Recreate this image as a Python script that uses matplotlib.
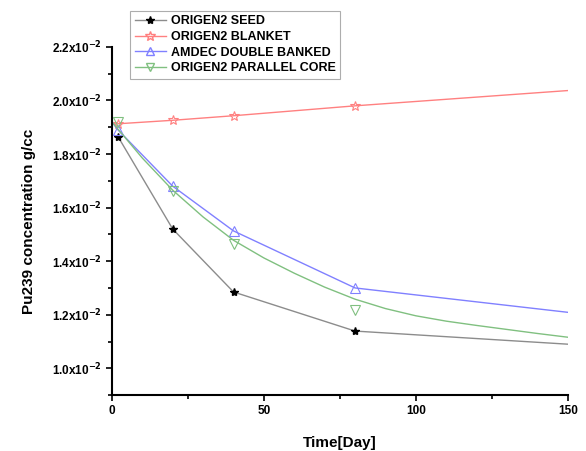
import numpy as np
import matplotlib
matplotlib.use("Agg")
import matplotlib.pyplot as plt
from matplotlib.lines import Line2D

plt.rcParams['font.family'] = ['Liberation Sans', 'DejaVu Sans']

# marker positions (days) and values (x1e-2 g/cc)
days = [2, 20, 40, 80]
seed = [1.865, 1.52, 1.285, 1.139]
blanket = [1.913, 1.926, 1.943, 1.980]
amdec = [1.89, 1.68, 1.513, 1.30]
parallel = [1.92, 1.662, 1.464, 1.218]

# line paths
seed_line_days = [2, 20, 40, 80, 150]
seed_line = [1.865, 1.52, 1.285, 1.139, 1.09]
blanket_line_days = [0, 2, 20, 40, 80, 150]
blanket_line = [1.912, 1.913, 1.926, 1.943, 1.980, 2.037]
amdec_line_days = [0, 2, 20, 40, 80, 150]
amdec_line = [1.92, 1.89, 1.68, 1.513, 1.30, 1.209]
fit_days = [0, 10, 20, 30, 40, 50, 60, 70, 80, 90, 100, 110, 120, 130, 140, 150]
fit_vals = [1.92, 1.785, 1.665, 1.565, 1.478, 1.412, 1.355, 1.303, 1.258,
            1.223, 1.196, 1.176, 1.160, 1.145, 1.130, 1.116]

ytick_vals = [1.0, 1.2, 1.4, 1.6, 1.8, 2.0, 2.2]
ytick_labels = [r'%.1fx10$^{\mathbf{-2}}$' % v for v in ytick_vals]

fig = plt.figure(figsize=(5.86, 4.51), dpi=100)
ax = fig.add_axes([0.191, 0.124, 0.778, 0.772])

c_seed, c_blank, c_amdec, c_par = '#8c8c8c', '#ff8080', '#8080ff', '#80c080'

ax.plot(seed_line_days, seed_line, color=c_seed, lw=1)
ax.plot(days, seed, ls='none', marker='*', ms=6, color='black')
ax.plot(blanket_line_days, blanket_line, color=c_blank, lw=1)
ax.plot(days, blanket, ls='none', marker='*', ms=7, mfc='none', mec=c_blank, mew=0.8)
ax.plot(amdec_line_days, amdec_line, color=c_amdec, lw=1)
ax.plot(days, amdec, ls='none', marker='^', ms=7, mfc='none', mec=c_amdec, mew=0.8)
ax.plot(fit_days, fit_vals, color=c_par, lw=1)
ax.plot(days, parallel, ls='none', marker='v', ms=7, mfc='none', mec=c_par, mew=0.8)

ax.set_xlim(0, 150)
ax.set_ylim(0.9, 2.2)
ax.set_xticks([0, 50, 100, 150])
ax.set_xticks([25, 75, 125], minor=True)
ax.set_yticks(ytick_vals)
ax.set_yticklabels(ytick_labels)
ax.set_yticks([0.9, 1.1, 1.3, 1.5, 1.7, 1.9, 2.1], minor=True)
for lab in ax.get_xticklabels() + ax.get_yticklabels():
    lab.set_fontweight('bold')
    lab.set_fontsize(8.5)
ax.tick_params(which='major', direction='out', length=4, width=1.2, pad=3)
ax.tick_params(which='minor', direction='out', length=3, width=1.2)

for s in ['top', 'right']:
    ax.spines[s].set_visible(False)
for s in ['left', 'bottom']:
    ax.spines[s].set_linewidth(1.5)

ax.set_xlabel('Time[Day]', fontsize=11, fontweight='bold', labelpad=14)
ax.set_ylabel('Pu239 concentration g/cc', fontsize=11, fontweight='bold', labelpad=12)

handles = [
    Line2D([], [], color=c_seed, lw=1, marker='*', ms=6, mfc='black', mec='black'),
    Line2D([], [], color=c_blank, lw=1, marker='*', ms=7, mfc='none', mec=c_blank),
    Line2D([], [], color=c_amdec, lw=1, marker='^', ms=6, mfc='none', mec=c_amdec),
    Line2D([], [], color=c_par, lw=1, marker='v', ms=6, mfc='none', mec=c_par),
]
names = ['ORIGEN2 SEED', 'ORIGEN2 BLANKET', 'AMDEC DOUBLE BANKED', 'ORIGEN2 PARALLEL CORE']
leg = fig.legend(handles, names, loc='upper left', bbox_to_anchor=(0.212, 0.99),
                 prop={'weight': 'bold', 'size': 9}, frameon=True, fancybox=False,
                 edgecolor='#999999', handlelength=2.5, handletextpad=0.4,
                 labelspacing=0.3, borderpad=0.35)
leg.get_frame().set_linewidth(0.8)

fig.savefig('out.png', dpi=100)
